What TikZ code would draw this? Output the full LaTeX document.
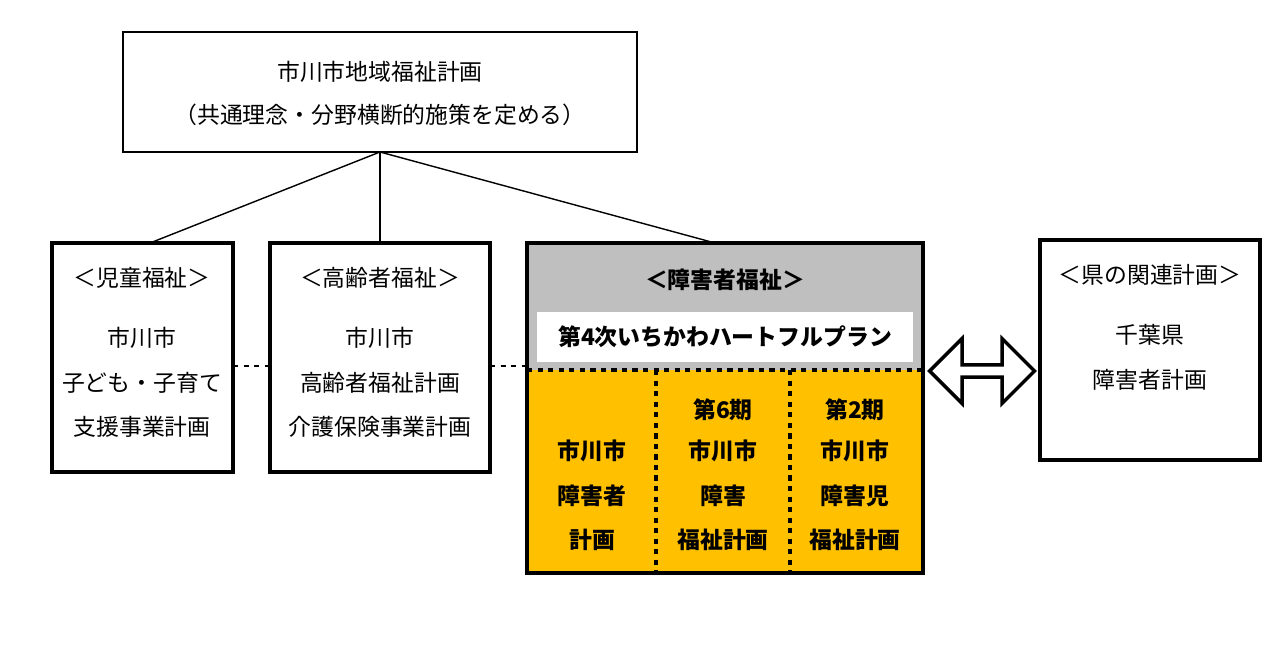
\documentclass[tikz,border=0pt]{standalone}
\usepackage{fontspec}
\setmainfont{Noto Sans CJK JP}
\usetikzlibrary{shapes.arrows}
\definecolor{plangold}{RGB}{255,192,0}
\definecolor{plangray}{RGB}{191,191,191}
\begin{document}
\begin{tikzpicture}[x=0.02cm,y=-0.02cm,font=\fontsize{13pt}{15pt}\selectfont]
\tikzset{box/.style={draw,line width=2.4pt},
  txt/.style={inner sep=0pt,anchor=center},
  bold/.style={txt,font=\fontsize{13pt}{15pt}\selectfont\bfseries}}
\useasboundingbox (0,0) rectangle (1281,648);

    % top plan
    \draw[line width=1.6pt] (123,32) rectangle (637,152);
    \coordinate (top) at (380,152);
    \node[txt] (toptitle) at (380,72) {市川市地域福祉計画};
    \node[txt] (topsub) at (380,115) {（共通理念・分野横断的施策を定める）};

    % child welfare
    \draw[box] (52,243) rectangle (233,472);
    \coordinate (child) at (150,243);
    \node[txt] (childhead) at (142,278) {＜児童福祉＞};
    \node[txt] (childa) at (142,338) {市川市};
    \node[txt] (childb) at (142,383) {子ども・子育て};
    \node[txt] (childc) at (142,427) {支援事業計画};

    % elderly welfare
    \draw[box] (270,243) rectangle (490,472);
    \coordinate (elder) at (380,243);
    \node[txt] (elderhead) at (380,278) {＜高齢者福祉＞};
    \node[txt] (eldera) at (380,338) {市川市};
    \node[txt] (elderb) at (380,383) {高齢者福祉計画};
    \node[txt] (elderc) at (380,427) {介護保険事業計画};

    % disability welfare
    \fill[plangray] (527,243) rectangle (923,370);
    \fill[plangold] (527,370) rectangle (923,573);
    \fill[white] (537,312) rectangle (913,362);
    \draw[box] (527,243) rectangle (923,573);
    \draw[line width=2.4pt,dashed] (527,370) -- (923,370);
    \draw[line width=2.4pt,dashed] (656,370) -- (656,573);
    \draw[line width=2.4pt,dashed] (790,370) -- (790,573);
    \coordinate (disab) at (715,243);
    \node[bold] (disabhead) at (725,280) {＜障害者福祉＞};
    \node[bold] (heart) at (725,337) {第4次いちかわハートフルプラン};
    \node[bold] (plana) at (592,451) {市川市};
    \node[bold] (planb) at (592,496) {障害者};
    \node[bold] (planc) at (592,540) {計画};
    \node[bold] (termsix) at (723,410) {第6期};
    \node[bold] (sixa) at (723,451) {市川市};
    \node[bold] (sixb) at (723,496) {障害};
    \node[bold] (sixc) at (723,540) {福祉計画};
    \node[bold] (termtwo) at (855,410) {第2期};
    \node[bold] (twoa) at (855,451) {市川市};
    \node[bold] (twob) at (855,496) {障害児};
    \node[bold] (twoc) at (855,540) {福祉計画};

    % prefecture
    \draw[box] (1040,240) rectangle (1260,460);
    \node[txt] (prefhead) at (1150,275) {＜県の関連計画＞};
    \node[txt] (prefa) at (1150,335) {千葉県};
    \node[txt] (prefb) at (1150,380) {障害者計画};

    % connectors
    \draw[thick] (top) -- (child);
    \draw[thick] (top) -- (elder);
    \draw[thick] (top) -- (disab);
    \draw[thick,dashed] (233,366) -- (270,366);
    \draw[thick,dashed] (490,366) -- (527,366);
    \node[double arrow,draw,line width=2pt,fill=white,minimum width=1.3cm,
      double arrow head extend=0.15cm,minimum height=2.1cm,inner sep=0pt] (link) at (982,371) {};
\end{tikzpicture}
\end{document}
